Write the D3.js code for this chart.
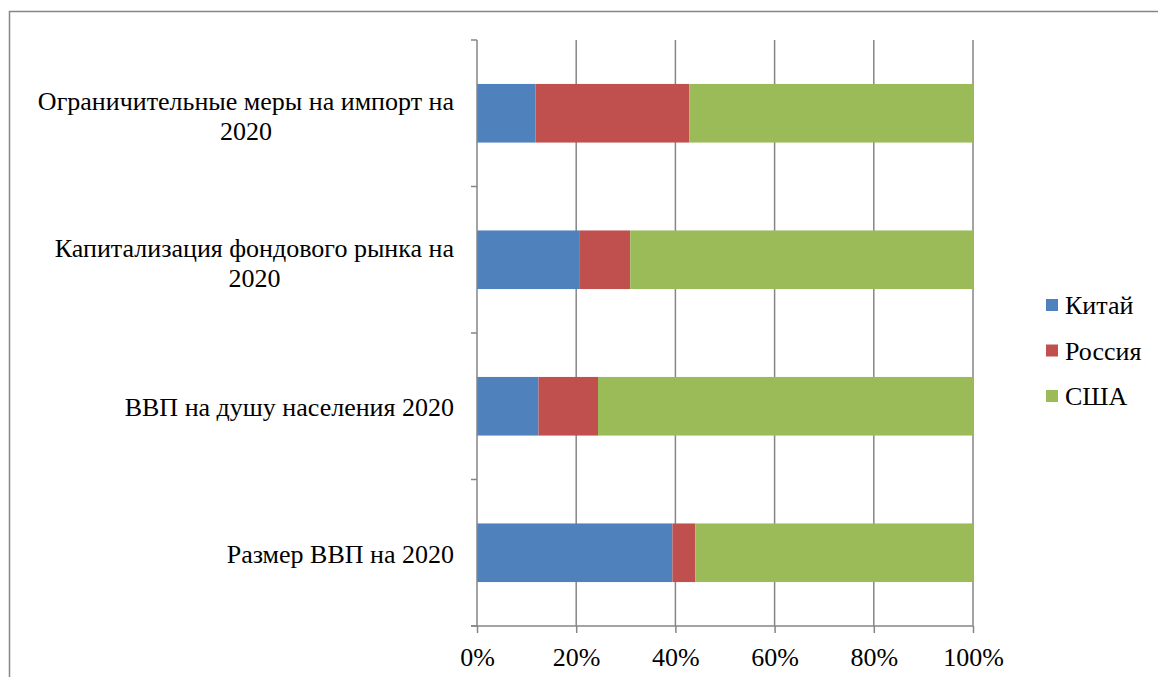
<!DOCTYPE html>
<html>
<head>
<meta charset="utf-8">
<script src="https://cdn.jsdelivr.net/npm/d3@7"></script>
<style>
  html, body { margin: 0; font-family: 'Liberation Serif', 'Times New Roman', serif; }
  svg text { font-family: 'Liberation Serif', 'Times New Roman', serif !important; }
</style>
</head>
<body>
<script>
// categories top to bottom
const categories = [
	["Ограничительные меры на импорт на", "2020"],
	["Капитализация фондового рынка на", "2020"],
	["ВВП на душу населения 2020"],
	["Размер ВВП на 2020"]
];
const seriesNames = ["Китай", "Россия", "США"];
// shares in %, same order as categories
const china  = [11.8, 20.6, 12.4, 39.4];
const russia = [31.0, 10.3, 12.0,  4.6];
const usa    = [57.2, 69.1, 75.6, 56.0];
const tickLabels = ["0%", "20%", "40%", "60%", "80%", "100%"];

const colors = ["#4f81bd", "#c0504d", "#9bbb59"],
	width  = 1158,
	height = 677,
	margin = {top: 40, left: 477, right: 185, bottom: 51},
	fontSize = '26px',
	gridColor = "#868686";

let rows = categories.map((c, i) => ({key: i, Китай: china[i], Россия: russia[i], США: usa[i]}));
let stack = d3.stack().keys(seriesNames).offset(d3.stackOffsetExpand);
let layers = stack(rows);

let svg = d3.select('body').append('svg')
	.attr('width', width)
	.attr('height', height)
	.style('display', 'block');

// outer frame
svg.append('path')
	.attr('d', `M9.5,${height}V11.5H${width}`)
	.attr('fill', 'none')
	.attr('stroke', gridColor)
	.attr('stroke-width', 1.5);

let x = d3.scaleLinear().domain([0, 1]).range([margin.left, 973]);
let y = d3.scaleBand().domain(rows.map(d => d.key))
	.range([margin.top, height - margin.bottom])
	.paddingInner(0.6).paddingOuter(0.3);

// vertical gridlines
let ticks = d3.range(0, 1.0001, 0.2);
svg.append('g').selectAll('line').data(ticks.slice(1)).enter().append('line')
	.attr('x1', d => x(d)).attr('x2', d => x(d))
	.attr('y1', margin.top).attr('y2', height - margin.bottom)
	.attr('stroke', gridColor).attr('stroke-width', 1.5);

// bars
svg.append('g').selectAll('g').data(layers).enter().append('g')
	.attr('fill', (d, i) => colors[i])
	.selectAll('rect').data(d => d).enter().append('rect')
	.attr('x', d => x(d[0]))
	.attr('width', d => x(d[1]) - x(d[0]))
	.attr('y', d => y(d.data.key))
	.attr('height', y.bandwidth());

// x axis
let xAxis = d3.axisBottom(x).tickValues(ticks).tickSize(7)
	.tickFormat((d, i) => tickLabels[i]);
let gx = svg.append('g')
	.attr('transform', `translate(0,${height - margin.bottom})`)
	.call(xAxis)
	.attr('font-family', null)
	.attr('font-size', null);
gx.select('.domain').attr('stroke', gridColor).attr('stroke-width', 1.5)
	.attr('d', `M${x(0) - 6},0H${x(1)}`);
gx.selectAll('.tick line').attr('stroke', gridColor).attr('stroke-width', 1.5);
gx.selectAll('.tick text')
	.attr('y', 22)
	.style('font-size', fontSize)
	.attr('fill', '#000');

// y axis line with ticks at band boundaries
let yTop = margin.top, yBot = height - margin.bottom;
svg.append('line')
	.attr('x1', x(0)).attr('x2', x(0))
	.attr('y1', yTop).attr('y2', yBot)
	.attr('stroke', gridColor).attr('stroke-width', 1.5);
let step = (yBot - yTop) / rows.length;
svg.append('g').selectAll('line').data(d3.range(rows.length + 1)).enter().append('line')
	.attr('x1', x(0) - 6).attr('x2', x(0))
	.attr('y1', d => yTop + d * step).attr('y2', d => yTop + d * step)
	.attr('stroke', gridColor).attr('stroke-width', 1.5);

// category labels, lines centred on the widest line, block right-aligned
let labelRight = 454, lineH = 30;
let labels = svg.append('g').selectAll('g').data(rows).enter().append('g');
labels.each(function(d, i) {
	let g = d3.select(this);
	let lines = categories[i];
	let cy = y(d.key) + y.bandwidth() / 2 + (lines.length > 1 ? 3 : 1);
	let t = g.selectAll('text').data(lines).enter().append('text')
		.style('font-size', fontSize)
		.attr('fill', '#000')
		.attr('text-anchor', 'middle')
		.attr('dy', '0.35em')
		.text(s => s);
	let w = d3.max(t.nodes(), n => n.getComputedTextLength());
	t.attr('x', labelRight - w / 2)
		.attr('y', (s, j) => cy + (j - (lines.length - 1) / 2) * lineH);
});

// legend
let legend = svg.append('g').selectAll('g').data(seriesNames).enter().append('g')
	.attr('transform', (d, i) => `translate(1046, ${305 + i * 45.5})`);
legend.append('rect')
	.attr('x', 0).attr('y', -6)
	.attr('width', 12).attr('height', 12)
	.attr('fill', (d, i) => colors[i]);
legend.append('text')
	.attr('x', 19)
	.attr('dy', '0.35em')
	.style('font-size', fontSize)
	.text(d => d);
</script>
</body>
</html>
